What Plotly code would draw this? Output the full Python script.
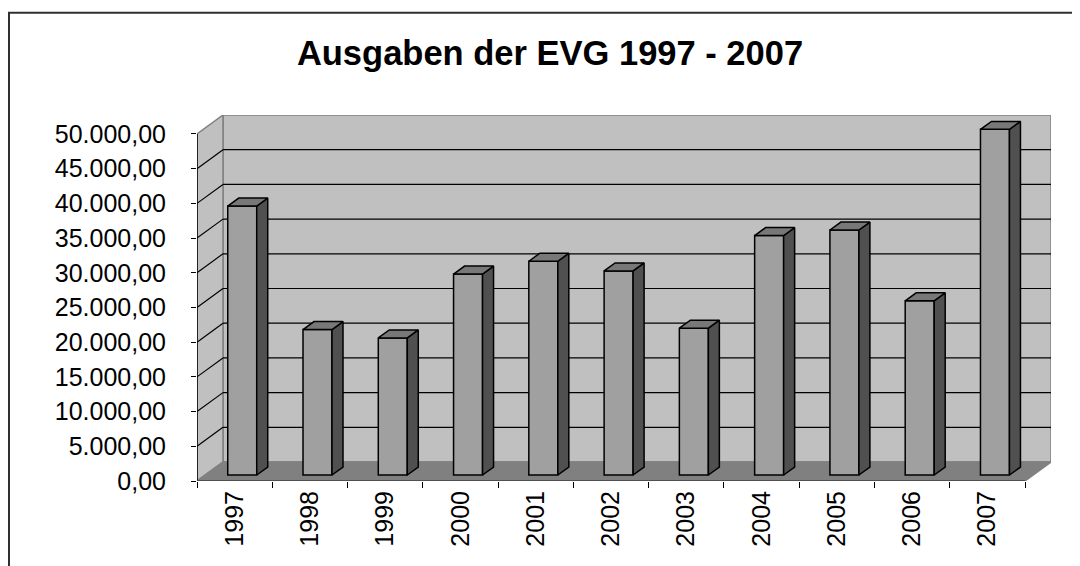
import plotly.graph_objects as go

# ---------------- data ----------------
years = ["1997", "1998", "1999", "2000", "2001", "2002", "2003", "2004", "2005", "2006", "2007"]
values = [38750, 20950, 19750, 28950, 30800, 29400, 21150, 34500, 35300, 25100, 49800]
y_ticks = [0, 5000, 10000, 15000, 20000, 25000, 30000, 35000, 40000, 45000, 50000]
title_text = "Ausgaben der EVG 1997 - 2007"


def de_fmt(v):
    return f"{v:,.2f}".replace(",", "X").replace(".", ",").replace("X", ".")


y_tick_text = [de_fmt(v) for v in y_ticks]

# ---------------- geometry (pixel based oblique projection) ----------------
W_PX, H_PX = 1080, 566
OFF = 8  # page body margin
LEFT, RIGHT_BACK = 197 - OFF, 1051 - OFF
FRONT_ZERO, BACK_TOP = 481 - OFF, 114.5 - OFF
PX_PER_CAT = 75.3
PX_PER_UNIT = 34.75 / 5000.0

DX = 26 / PX_PER_CAT            # full depth shift (x, category units)
DY = 19 / PX_PER_UNIT           # full depth shift (y, value units)
BX = 7.6 / PX_PER_CAT           # bar front face shift
BY = 6 / PX_PER_UNIT
BW = 29 / PX_PER_CAT            # bar width
BDX = 11 / PX_PER_CAT           # bar depth
BDY = 8 / PX_PER_UNIT

n = len(years)
idx = list(range(n))
ymax = y_ticks[-1]
x_lo, x_hi = -0.5, n - 0.5

FONT = "Liberation Sans, Arial, sans-serif"

fig = go.Figure()

# bar front faces
fig.add_trace(go.Bar(
    x=[i + BX for i in idx], y=values, base=BY, width=BW,
    marker=dict(color="#A0A0A0", line=dict(color="black", width=1.5)),
    hoverinfo="skip", showlegend=False,
))

# side faces and top faces computed from the values
sx, sy, tx, ty = [], [], [], []
for i, v in zip(idx, values):
    xl = i + BX - BW / 2
    xr = i + BX + BW / 2
    sx += [xr, xr + BDX, xr + BDX, xr, xr, None]
    sy += [BY, BY + BDY, BY + BDY + v, BY + v, BY, None]
    tx += [xl, xr, xr + BDX, xl + BDX, xl, None]
    ty += [BY + v, BY + v, BY + v + BDY, BY + v + BDY, BY + v, None]

fig.add_trace(go.Scatter(x=sx, y=sy, mode="lines", fill="toself", fillcolor="#505050",
                         line=dict(color="black", width=1.5), hoverinfo="skip", showlegend=False))
fig.add_trace(go.Scatter(x=tx, y=ty, mode="lines", fill="toself", fillcolor="#787878",
                         line=dict(color="black", width=1.5), hoverinfo="skip", showlegend=False))

shapes = []
# back wall
shapes.append(dict(type="path", xref="x", yref="y", layer="below",
                   path=f"M{x_lo+DX},{DY} L{x_hi+DX},{DY} L{x_hi+DX},{ymax+DY} L{x_lo+DX},{ymax+DY} Z",
                   fillcolor="#C0C0C0", line=dict(color="#808080", width=1.5)))
# side wall
shapes.append(dict(type="path", xref="x", yref="y", layer="below",
                   path=f"M{x_lo},0 L{x_lo+DX},{DY} L{x_lo+DX},{ymax+DY} L{x_lo},{ymax} Z",
                   fillcolor="#C0C0C0", line=dict(color="#808080", width=1.5)))
# floor
shapes.append(dict(type="path", xref="x", yref="y", layer="below",
                   path=f"M{x_lo},0 L{x_hi},0 L{x_hi+DX},{DY} L{x_lo+DX},{DY} Z",
                   fillcolor="#808080", line=dict(color="#808080", width=1.5)))
# gridlines on back and side wall
for v in y_ticks[1:-1]:
    shapes.append(dict(type="line", xref="x", yref="y", layer="below",
                       x0=x_lo + DX, x1=x_hi + DX, y0=v + DY, y1=v + DY,
                       line=dict(color="black", width=1.2)))
    shapes.append(dict(type="line", xref="x", yref="y", layer="below",
                       x0=x_lo, x1=x_lo + DX, y0=v, y1=v + DY,
                       line=dict(color="black", width=1.2)))
# front axis edges
shapes.append(dict(type="line", xref="x", yref="y", layer="below",
                   x0=x_lo, x1=x_lo, y0=0, y1=ymax, line=dict(color="black", width=1.5)))
shapes.append(dict(type="line", xref="x", yref="y", layer="below",
                   x0=x_lo, x1=x_hi, y0=0, y1=0, line=dict(color="#404040", width=1.5)))
# chart border
pw = RIGHT_BACK - LEFT
ph = FRONT_ZERO - BACK_TOP
shapes.append(dict(type="rect", xref="paper", yref="paper",
                   x0=(1 - LEFT) / pw, x1=(1095 - LEFT) / pw,
                   y0=(FRONT_ZERO - 580) / ph, y1=(FRONT_ZERO - (12 - OFF)) / ph,
                   line=dict(color="#303030", width=2), fillcolor="rgba(0,0,0,0)"))

fig.update_layout(
    width=W_PX, height=H_PX,
    margin=dict(l=LEFT, r=W_PX - RIGHT_BACK, t=BACK_TOP, b=H_PX - FRONT_ZERO, pad=0),
    paper_bgcolor="white", plot_bgcolor="white",
    shapes=shapes,
    showlegend=False,
    title=dict(text=title_text, x=(550 - OFF) / W_PX, xanchor="center", xref="container",
               y=1 - (53 - OFF) / H_PX, yanchor="middle", yref="container",
               font=dict(family=FONT, size=34.5, color="black", weight="bold")),
    xaxis=dict(range=[x_lo, x_hi + DX], showgrid=False, zeroline=False, showline=False,
               tickmode="array", tickvals=idx, ticktext=years, tickangle=-90,
               ticks="", ticklabelstandoff=4, automargin=False,
               tickfont=dict(family=FONT, size=25, color="black"),
               minor=dict(tickmode="array", tickvals=[i - 0.5 for i in range(n + 1)],
                          ticks="outside", ticklen=6, tickcolor="black", tickwidth=1.2,
                          showgrid=False)),
    yaxis=dict(range=[0, ymax + DY], showgrid=False, zeroline=False, showline=False,
               tickmode="array", tickvals=y_ticks, ticktext=y_tick_text,
               ticks="outside", ticklen=5, tickcolor="black", tickwidth=1.2,
               ticklabelstandoff=20, automargin=False,
               tickfont=dict(family=FONT, size=25, color="black")),
)

fig.write_html("out.html")
